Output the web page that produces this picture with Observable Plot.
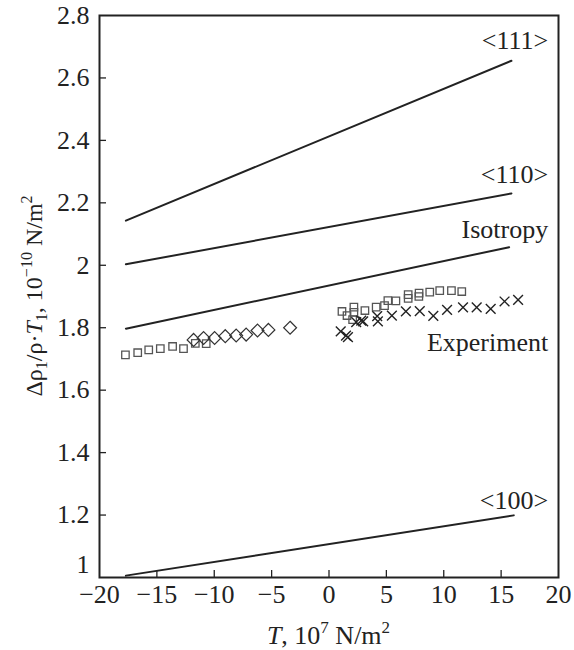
<!DOCTYPE html>
<html><head><meta charset="utf-8">
<script src="https://cdn.jsdelivr.net/npm/d3@7"></script>
<script src="https://cdn.jsdelivr.net/npm/@observablehq/plot@0.6"></script>
<style>body{margin:0;background:#fff}</style>
</head><body><div id="chart"></div>
<script>
// tick values
const xTicks = [-20, -15, -10, -5, 0, 5, 10, 15, 20];
const yTicks = [1, 1.2, 1.4, 1.6, 1.8, 2, 2.2, 2.4, 2.6, 2.8];
const yTickLabels = ["1", "1.2", "1.4", "1.6", "1.8", "2", "2.2", "2.4", "2.6", "2.8"];

// theoretical lines (start, end)
const lineNames = ["<111>", "<110>", "Isotropy", "<100>"];
const lineT = [[-17.7, 15.9], [-17.7, 15.9], [-17.7, 15.7], [-17.7, 16.1]];
const lineV = [[2.143, 2.655], [2.003, 2.23], [1.797, 2.058], [1.006, 1.199]];

// annotations
const labelText = ["<111>", "<110>", "Isotropy", "Experiment", "<100>"];
const labelT = [19.1, 19.1, 19.1, 19.1, 19.1];
const labelV = [2.72, 2.29, 2.115, 1.753, 1.247];

// experiment: squares
const sqT = [-17.74, -16.67, -15.71, -14.70, -13.63, -12.68, -11.65, -10.70,
  1.13, 1.57, 2.06, 2.17, 2.17, 3.13, 4.11, 4.84, 5.13, 5.83, 6.90, 6.90, 7.83, 7.85, 8.78, 9.65, 10.67, 11.57];
const sqV = [1.713, 1.720, 1.729, 1.733, 1.740, 1.733, 1.750, 1.749,
  1.852, 1.839, 1.826, 1.866, 1.849, 1.855, 1.866, 1.871, 1.887, 1.886, 1.894, 1.906, 1.900, 1.911, 1.914, 1.919, 1.919, 1.916];
// experiment: diamonds
const diT = [-11.80, -10.93, -9.97, -9.04, -8.09, -7.22, -6.23, -5.28, -3.39];
const diV = [1.761, 1.767, 1.767, 1.773, 1.775, 1.778, 1.791, 1.793, 1.800];
// experiment: crosses
const crT = [1.02, 1.48, 1.65, 2.37, 2.81, 2.98, 4.2, 4.26, 5.48, 6.70, 7.91, 9.09, 10.29, 11.68, 12.87, 14.09, 15.30, 16.48];
const crV = [1.788, 1.775, 1.770, 1.818, 1.823, 1.820, 1.837, 1.820, 1.839, 1.852, 1.853, 1.838, 1.857, 1.865, 1.865, 1.860, 1.884, 1.889];

const W = 574, H = 650, mL = 99, mR = 16, mT = 15, mB = 73;
const innerW = W - mL - mR, innerH = H - mT - mB;
const ink = "#222";
const serif = "'Liberation Serif', 'Times New Roman', serif";

const segs = lineNames.flatMap((n, i) => [0, 1].map(j => ({name: n, t: lineT[i][j], v: lineV[i][j]})));
const labels = labelText.map((s, i) => ({s, t: labelT[i], v: labelV[i]}));
const squares = sqT.map((t, i) => ({t, v: sqV[i]}));
const diamonds = diT.map((t, i) => ({t, v: diV[i]}));
const crosses = crT.map((t, i) => ({t, v: crV[i]}));
const yFmt = d => yTickLabels[yTicks.indexOf(d)];

const plot = Plot.plot({
  width: W, height: H,
  marginLeft: mL, marginRight: mR, marginTop: mT, marginBottom: mB,
  style: {fontFamily: serif, fontSize: "26px", background: "#fff", color: ink},
  x: {domain: [-20, 20]},
  y: {domain: [1, 2.8]},
  marks: [
    Plot.tickX(xTicks.slice(1, -1), {x: d => d, insetTop: innerH - 7, stroke: ink, strokeWidth: 1.3}),
    Plot.tickY(yTicks.slice(1, -1), {y: d => d, insetRight: innerW - 7, stroke: ink, strokeWidth: 1.3}),
    Plot.axisX({ticks: xTicks, tickSize: 0, tickPadding: 7, label: null, fill: ink, fontSize: 26}),
    Plot.axisY({ticks: yTicks.slice(1), tickSize: 0, tickPadding: 10, label: null, fill: ink, fontSize: 26, tickFormat: yFmt}),
    Plot.axisY({ticks: yTicks.slice(0, 1), tickSize: 0, tickPadding: 10, label: null, fill: ink, fontSize: 26, tickFormat: yFmt, dy: -13}),
    Plot.line(segs, {x: "t", y: "v", z: "name", stroke: ink, strokeWidth: 2}),
    Plot.dot(squares, {x: "t", y: "v", symbol: "square", r: 4.2, stroke: "#555", strokeWidth: 1.3, fill: "none"}),
    Plot.dot(diamonds, {x: "t", y: "v", symbol: "diamond2", r: 5.8, stroke: "#333", strokeWidth: 1.2, fill: "none"}),
    Plot.dot(crosses, {x: "t", y: "v", symbol: "times", r: 4.5, stroke: ink, strokeWidth: 1.4}),
    Plot.text(labels, {x: "t", y: "v", text: "s", textAnchor: "end", fontSize: 26, fill: ink}),
    Plot.frame({stroke: ink, strokeWidth: 2})
  ]
});

const svg = d3.select(plot);
// x axis label
const xl = svg.append("text").attr("x", mL + innerW / 2).attr("y", 644)
  .attr("text-anchor", "middle").attr("fill", ink).style("font-family", serif).style("font-size", "26px");
xl.append("tspan").attr("font-style", "italic").text("T");
xl.append("tspan").text(", 10");
xl.append("tspan").attr("dy", -11).style("font-size", "17px").text("7");
xl.append("tspan").attr("dy", 11).text(" N/m");
xl.append("tspan").attr("dy", -11).style("font-size", "17px").text("2");

// y axis label
const yl = svg.append("text").attr("transform", `translate(42,${mT + innerH / 2}) rotate(-90)`)
  .attr("text-anchor", "middle").attr("fill", ink).style("font-family", serif).style("font-size", "24px");
yl.append("tspan").text("Δρ");
yl.append("tspan").attr("dy", 5).style("font-size", "16px").text("1");
yl.append("tspan").attr("dy", -5).text("/ρ·");
yl.append("tspan").attr("font-style", "italic").text("T");
yl.append("tspan").attr("dy", 5).style("font-size", "16px").text("1");
yl.append("tspan").attr("dy", -5).text(", 10");
yl.append("tspan").attr("dy", -10).style("font-size", "16px").text("−10");
yl.append("tspan").attr("dy", 10).text(" N/m");
yl.append("tspan").attr("dy", -10).style("font-size", "16px").text("2");

document.getElementById("chart").appendChild(plot);
</script>
</body></html>
